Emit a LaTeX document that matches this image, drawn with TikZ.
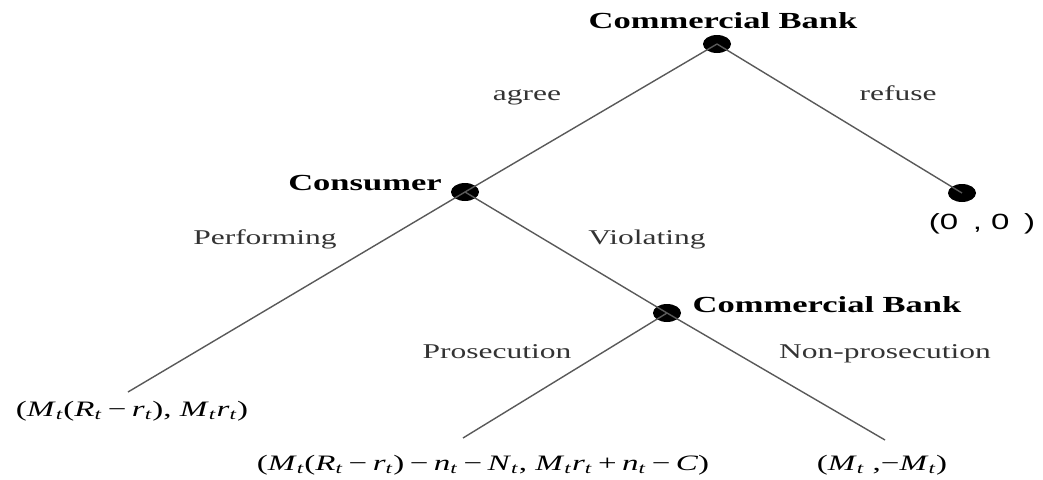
\documentclass[tikz,border=0pt]{standalone}
\usepackage{fontspec}
\setmainfont{Liberation Serif}
\newfontfamily\sansf{Liberation Sans}
\usetikzlibrary{shapes.geometric}
\newcommand\hs[1]{\scalebox{1.5}[1]{#1}}
\newcommand\vt[1]{\textit{#1}\textsubscript{\textit{t}}}
\tikzset{
  gdot/.style={ellipse, fill=black, minimum width=28pt, minimum height=18pt, inner sep=0pt},
  edge/.style={draw=black!65, line width=1.4pt},
  blab/.style={anchor=base, inner sep=0pt, font=\bfseries\fontsize{23}{27}\selectfont, text=black},
  lab/.style={anchor=base, inner sep=0pt, font=\fontsize{21}{25}\selectfont, text=black!80},
  pay/.style={anchor=base, inner sep=0pt, font=\fontsize{22}{26}\selectfont, text=black}
}
\begin{document}
\begin{tikzpicture}[x=1pt,y=-1pt]
\useasboundingbox (0,0) rectangle (1043,479);
% decision nodes
\node[gdot] (root) at (717,44) {};
\node[gdot] (cons) at (465,192) {};
\node[gdot] (ref) at (962,193) {};
\node[gdot] (bank) at (667,313) {};
% leaf ends
\coordinate (lperf) at (128,392);
\coordinate (lpros) at (463,438);
\coordinate (lnon) at (885,440);
% edges
\draw[edge] (root.center) -- (cons.center);
\draw[edge] (root.center) -- (ref.center);
\draw[edge] (cons.center) -- (lperf);
\draw[edge] (cons.center) -- (bank.center);
\draw[edge] (bank.center) -- (lpros);
\draw[edge] (bank.center) -- (lnon);
% player labels
\node[blab] (troot) at (723,28) {\hs{Commercial Bank}};
\node[blab] (tcons) at (365,190) {\hs{Consumer}};
\node[blab] (tbank) at (827,312) {\hs{Commercial Bank}};
% action labels
\node[lab] (tagree) at (527,100) {\hs{agree}};
\node[lab] (trefuse) at (898,100) {\hs{refuse}};
\node[lab] (tperf) at (265,244) {\hs{Performing}};
\node[lab] (tviol) at (647,244) {\hs{Violating}};
\node[lab] (tpros) at (497,358) {\hs{Prosecution}};
\node[lab] (tnon) at (885,358) {\hs{Non-prosecution}};
% payoffs
\node[pay, font=\sansf\fontsize{22}{26}\selectfont] (p0) at (982,229) {\hs{(0\, , 0\, )}};
\node[pay] (p1) at (132,416) {\hs{(\vt{M}(\vt{R}\,−\,\vt{r}), \vt{M}\vt{r})}};
\node[pay] (p2) at (483,470) {\hs{(\vt{M}(\vt{R}\,−\,\vt{r})\,−\,\vt{n}\,−\,\vt{N}, \vt{M}\vt{r}\,+\,\vt{n}\,−\,\textit{C})}};
\node[pay] (p3) at (882,470) {\hs{(\vt{M} ,−\vt{M})}};
\end{tikzpicture}
\end{document}
